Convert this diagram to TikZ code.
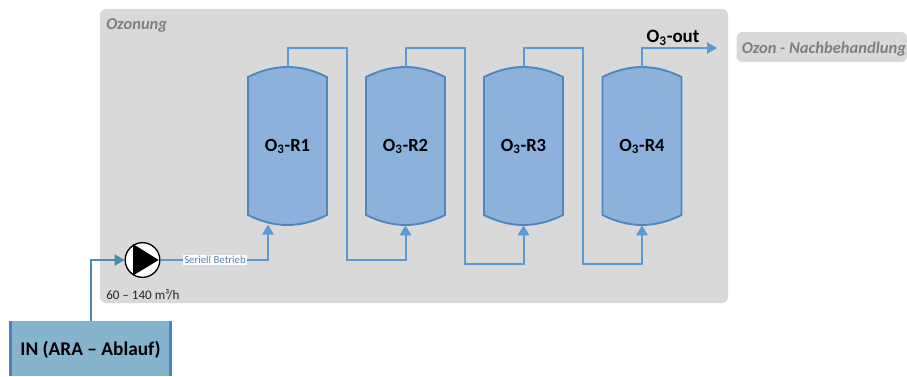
\documentclass[tikz,border=0pt]{standalone}
\usepackage{fontspec}
\setmainfont{Carlito}
\usetikzlibrary{arrows.meta}
\definecolor{panelgray}{HTML}{D9D9D9}
\definecolor{titlegray}{HTML}{7F7F7F}
\definecolor{reactorfill}{HTML}{8DB1DD}
\definecolor{reactorline}{HTML}{4F86BD}
\definecolor{pipeblue}{HTML}{5B9BD5}
\definecolor{inblue}{HTML}{4A8DB0}
\definecolor{infill}{HTML}{85B4CC}
\definecolor{inbar}{HTML}{4F81BD}
\definecolor{labelblue}{HTML}{5B84B1}
\tikzset{
  panel/.style={fill=panelgray,rounded corners=4.5pt,inner sep=0pt},
  title/.style={text=titlegray,font=\bfseries\itshape\fontsize{12.4}{14}\selectfont,inner sep=0pt},
  reactor/.style={draw=reactorline,fill=reactorfill,line width=1.4pt},
  reactorname/.style={minimum width=59.25pt,minimum height=118.5pt,inner sep=0pt,text height=10pt,text depth=2.5pt,font=\bfseries\fontsize{13.9}{16}\selectfont},
  pipe/.style={draw=pipeblue,line width=1.5pt,-{Triangle[length=7.5pt,width=8.5pt]}},
}
\begin{document}
\begin{tikzpicture}[x=0.75pt,y=-0.75pt]
  \useasboundingbox (0,0) rectangle (907,376);

  % Ozonung
  \node[panel,minimum width=471pt,minimum height=220.5pt] (ozonung) at (414,156) {};
  \node[title,anchor=west] (ozonungtitle) at (106,25) {Ozonung};

  % Nachbehandlung
  \node[panel,minimum width=127.9pt,minimum height=22.5pt] (nachbehandlung) at (821.8,47) {};
  \node[title,anchor=west] (nachbehandlungtitle) at (741.5,49) {Ozon - Nachbehandlung};

  % Reaktoren
  \foreach \i/\xc in {1/287.5,2/405.5,3/523.5,4/642} {
    \draw[reactor] (\xc-39.5,77) .. controls (\xc-13,63.7) and (\xc+13,63.7) .. (\xc+39.5,77)
      -- (\xc+39.5,215) .. controls (\xc+13,228.3) and (\xc-13,228.3) .. (\xc-39.5,215) -- cycle;
    \node[reactorname] (r\i) at (\xc,146) {O\textsubscript{3}-R\i};
  }

  % Zulauf
  \node[fill=infill,minimum width=120.75pt,minimum height=41.25pt,inner sep=0pt,text height=13pt,text depth=1.8pt,
    font=\bfseries\fontsize{14.5}{17}\selectfont] (in) at (90.5,348.5) {IN (ARA – Ablauf)};
  \draw[inbar,line width=1.6pt] ([xshift=0.6pt]in.north west) -- ([xshift=0.6pt]in.south west);
  \draw[inbar,line width=1.6pt] ([xshift=-0.6pt]in.north east) -- ([xshift=-0.6pt]in.south east);

  % Pumpe
  \node[circle,draw=black,fill=white,line width=1pt,minimum size=26pt,inner sep=0pt] (pump) at (142.5,260) {};
  \fill (133,244) -- (133,275.5) -- (158.7,260) -- cycle;
  \node[anchor=west,inner sep=0pt,font=\fontsize{9.8}{12}\selectfont,text=black!85] (flow) at (106,295) {60 – 140 m³/h};

  % Leitungen
  \coordinate (r1in) at (268,224.5);
  \draw[draw=inblue,line width=1.5pt,-{Triangle[length=7.5pt,width=8.5pt]}] (in.north) |- (pump.west);
  \draw[pipe] (pump.east) -| (r1in);
  \node[fill=white,inner sep=0.6pt,font=\fontsize{8.1}{10}\selectfont,text=labelblue] (betrieb) at (215,260) {Seriell Betrieb};

  \draw[pipe] (r1.north) |- (347,47.5) -- (347,260) -| (r2.south);
  \draw[pipe] (r2.north) |- (465,47.5) -- (465,263.5) -| (r3.south);
  \draw[pipe] (r3.north) |- (583,47.5) -- (583,263.5) -| (r4.south);

  % Ablauf
  \coordinate (out) at (717,48);
  \draw[pipe] (r4.north) |- (out);
  \node[inner sep=0pt,font=\bfseries\fontsize{14.2}{16}\selectfont] (outlabel) at (673,37.5) {O\textsubscript{3}-out};
\end{tikzpicture}
\end{document}
